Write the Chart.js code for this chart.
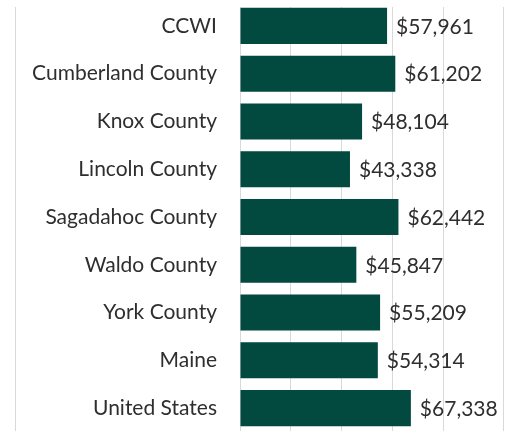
<!DOCTYPE html>
<html>
<head>
<meta charset="utf-8">
<script src="https://cdn.jsdelivr.net/npm/chart.js@4/dist/chart.umd.min.js"></script>
<style>
  html, body { margin: 0; padding: 0; background: #fff; }
  #wrap { position: relative; width: 506px; height: 431px; overflow: hidden; }
  #box { position: absolute; left: 0; top: 0; width: 506px; height: 440px; }
  #topStrip { position: absolute; left: 0; top: 0; width: 506px; height: 7px; background: #fff; }
  .edge { position: absolute; top: 7px; bottom: 0; width: 1px; background: #d9d9d9; }
</style>
</head>
<body>
<div id="wrap">
  <div id="box"><canvas id="chart"></canvas></div>
  <div id="topStrip"></div>
  <div class="edge" style="left:15px"></div>
  <div class="edge" style="left:503px"></div>
</div>
<script>
// median household income by area
const areas = ['CCWI', 'Cumberland County', 'Knox County', 'Lincoln County', 'Sagadahoc County',
  'Waldo County', 'York County', 'Maine', 'United States'];
const incomes = [57961, 61202, 48104, 43338, 62442, 45847, 55209, 54314, 67338];
const axisMax = 80000;
const axisStep = 20000;

const fontFamily = 'Lato, "Noto Sans", sans-serif';
const textColor = '#2e2e2e';

// draws "$xx,xxx" just past the end of each bar
const valueLabels = {
  id: 'valueLabels',
  afterDatasetsDraw(chart) {
    const ctx = chart.ctx;
    const meta = chart.getDatasetMeta(0);
    ctx.save();
    ctx.font = '21px ' + fontFamily;
    ctx.fillStyle = textColor;
    ctx.textBaseline = 'middle';
    ctx.textAlign = 'left';
    meta.data.forEach((bar, i) => {
      ctx.fillText('$' + incomes[i].toLocaleString('en-US'), bar.x + 9, bar.y + 1);
    });
    ctx.restore();
  }
};

new Chart(document.getElementById('chart'), {
  type: 'bar',
  data: {
    labels: areas,
    datasets: [{
      data: incomes,
      backgroundColor: '#02493f',
      barPercentage: 0.755,
      categoryPercentage: 1
    }]
  },
  options: {
    indexAxis: 'y',
    responsive: true,
    maintainAspectRatio: false,
    animation: false,
    layout: { padding: { left: 0, right: 63, top: 2, bottom: 8 } },
    plugins: { legend: { display: false }, tooltip: { enabled: false } },
    scales: {
      x: {
        min: 0,
        max: axisMax,
        ticks: { display: false, stepSize: axisStep },
        grid: { color: '#d9d9d9', lineWidth: 1, drawTicks: false },
        border: { display: false },
        afterFit(scale) {
          scale.height = 0;
          scale.paddingLeft = 0; scale.paddingRight = 0;
        }
      },
      y: {
        ticks: { color: textColor, font: { family: fontFamily, size: 21 }, padding: 15 },
        grid: { display: false },
        border: { display: false },
        afterFit(scale) {
          scale.width = 240;
          scale.paddingTop = 0; scale.paddingBottom = 0;
        }
      }
    }
  },
  plugins: [valueLabels]
});
</script>
</body>
</html>
